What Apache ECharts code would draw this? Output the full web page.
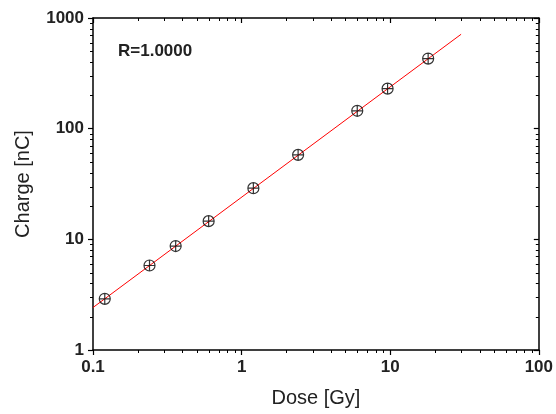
<!DOCTYPE html>
<html>
<head>
<meta charset="utf-8">
<style>
  html, body { margin: 0; padding: 0; background: #fff; }
  #chart { width: 556px; height: 414px; }
</style>
<script src="https://cdn.jsdelivr.net/npm/echarts@6/dist/echarts.min.js"></script>
</head>
<body>
<div id="chart"></div>
<script>
// measured points: dose [Gy] and charge [nC]
var dose = [0.12, 0.24, 0.36, 0.6, 1.2, 2.4, 6.0, 9.6, 18]
var charge = [2.9, 5.8, 8.7, 14.6, 29, 58, 145, 230, 430]
// linear fit, two ends of the line
var fitDose = [0.1, 30]
var fitCharge = [2.42, 713]
var fitText = 'R=1.0000'
// decades on each axis (start of each decade for the minor ticks)
var xDecades = [0.1, 1, 10]
var yDecades = [1, 10, 100]

var points = dose.map(function (d, i) { return [d, charge[i]] })
var fitLine = fitDose.map(function (d, i) { return [d, fitCharge[i]] })

// minor tick values, 2..9 inside each decade
function minorValues(decades) {
  var out = []
  decades.forEach(function (d) {
    for (var k = 2; k <= 9; k++) out.push(+(d * k).toPrecision(6))
  })
  return out
}
var xMinor = minorValues(xDecades)
var yMinor = minorValues(yDecades)

var font = '"Liberation Sans", Arial, sans-serif'
var marker = 'path://M0,-10 A10,10 0 1,1 0,10 A10,10 0 1,1 0,-10 Z M-10,0 L10,0 M0,-10 L0,10'

var chart = echarts.init(document.getElementById('chart'))

function logAxis(opt) {
  return Object.assign({
    type: 'log',
    logBase: 10,
    axisLine: { show: true, onZero: false, lineStyle: { color: '#000', width: 1.5 } },
    axisTick: { show: true, inside: false, length: 5, lineStyle: { color: '#000', width: 1.2 } },
    splitLine: { show: false },
    axisLabel: {
      show: true, color: '#222', fontFamily: font, fontWeight: 'bold', fontSize: 17, margin: 9,
      formatter: function (v) { return String(+Number(v).toPrecision(6)) }
    }
  }, opt)
}

chart.setOption({
  animation: false,
  grid: { left: 93, right: 16, top: 18, bottom: 64 },
  graphic: [{
    id: 'fitText',
    type: 'text',
    left: 118,
    top: 43,
    style: { text: fitText, font: 'bold 17px ' + font, fill: '#222' }
  }],
  xAxis: [
    logAxis({
      min: 0.1,
      max: 100,
      name: 'Dose [Gy]',
      nameLocation: 'middle',
      nameGap: 38,
      nameTextStyle: { fontFamily: font, fontSize: 20, color: '#222' }
    }),
    logAxis({
      min: 0.1,
      max: 100,
      position: 'top',
      axisTick: { show: true, inside: true, length: 5, lineStyle: { color: '#000', width: 1.2 } },
      axisLabel: { show: false }
    })
  ],
  yAxis: [
    logAxis({
      min: 1,
      max: 1000,
      name: 'Charge [nC]',
      nameLocation: 'middle',
      nameGap: 60,
      nameTextStyle: { fontFamily: font, fontSize: 20, color: '#222' }
    }),
    logAxis({
      min: 1,
      max: 1000,
      position: 'right',
      axisTick: { show: true, inside: true, length: 5, lineStyle: { color: '#000', width: 1.2 } },
      axisLabel: { show: false }
    })
  ],
  series: [
    {
      type: 'line',
      data: fitLine,
      symbol: 'none',
      lineStyle: { color: '#ff0000', width: 1 },
      z: 2
    },
    {
      type: 'scatter',
      data: points,
      symbol: marker,
      symbolSize: 11,
      itemStyle: { color: 'transparent', borderColor: '#000', borderWidth: 1.2 },
      z: 3
    }
  ]
})

// minor ticks on all four frame sides, placed through the axis scales
function addMinorTicks() {
  var xLeft = chart.convertToPixel({ xAxisIndex: 0 }, 0.1)
  var xRight = chart.convertToPixel({ xAxisIndex: 0 }, 100)
  var yBottom = chart.convertToPixel({ yAxisIndex: 0 }, 1)
  var yTop = chart.convertToPixel({ yAxisIndex: 0 }, 1000)
  var ticks = []
  function tick(x1, y1, x2, y2) {
    ticks.push({
      type: 'line',
      id: 'minor' + ticks.length,
      silent: true,
      shape: { x1: x1, y1: y1, x2: x2, y2: y2 },
      style: { stroke: '#000', lineWidth: 1 }
    })
  }
  xMinor.forEach(function (v) {
    var px = Math.round(chart.convertToPixel({ xAxisIndex: 0 }, v)) + 0.5
    tick(px, yBottom, px, yBottom + 3)
    tick(px, yTop, px, yTop + 3)
  })
  yMinor.forEach(function (v) {
    var py = Math.round(chart.convertToPixel({ yAxisIndex: 0 }, v)) + 0.5
    tick(xLeft, py, xLeft - 3, py)
    tick(xRight, py, xRight - 3, py)
  })
  chart.setOption({ graphic: ticks })
}
addMinorTicks()
</script>
</body>
</html>
